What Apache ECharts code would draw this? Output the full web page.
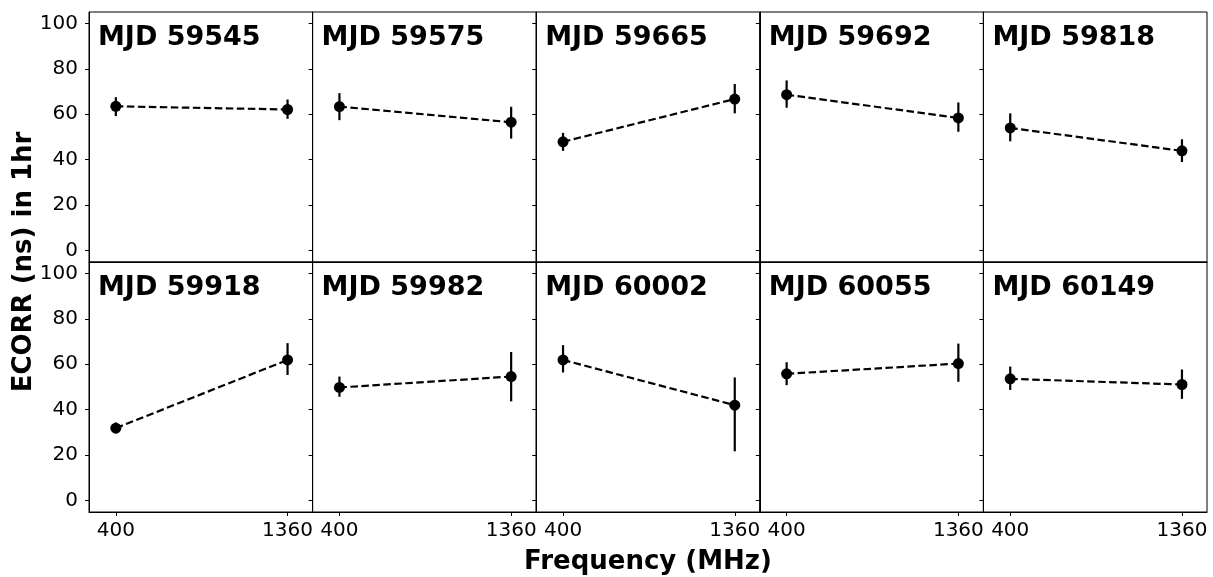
<!DOCTYPE html>
<html>
<head>
<meta charset="utf-8">
<script src="https://cdn.jsdelivr.net/npm/echarts@6/dist/echarts.min.js"></script>
<style>
  html, body { margin: 0; padding: 0; background: #fff; }
  #chart { width: 1213px; height: 577px; }
</style>
</head>
<body>
<div id="chart"></div>
<script>
// epochs, one panel each
var mjdLabels = ['MJD 59545', 'MJD 59575', 'MJD 59665', 'MJD 59692', 'MJD 59818',
                 'MJD 59918', 'MJD 59982', 'MJD 60002', 'MJD 60055', 'MJD 60149'];
var freqs = [400, 1360];
// ECORR (ns) at 400 MHz, with lower / upper ends of the error bar
var ecorr400 = [63.5, 63.4, 47.9, 68.6, 54.0, 31.9, 49.8, 61.9, 55.8, 53.6];
var lo400    = [59.2, 57.4, 43.9, 62.9, 48.1, 29.7, 45.7, 56.4, 50.8, 48.7];
var hi400    = [67.5, 69.3, 51.8, 74.9, 60.4, 34.4, 54.6, 68.4, 60.9, 59.0];
// ECORR (ns) at 1360 MHz
var ecorr1360 = [62.1, 56.5, 66.7, 58.4, 43.9, 61.9, 54.6, 42.0, 60.3, 51.1];
var lo1360    = [58.0, 49.3, 60.4, 52.3, 39.0, 55.3, 43.7, 21.7, 52.3, 44.8];
var hi1360    = [66.5, 63.3, 73.3, 65.2, 49.0, 69.3, 65.4, 54.2, 69.1, 57.7];
var yTicks = [0, 20, 40, 60, 80, 100];

var FONT = 'DejaVu Sans';
var panelLeft = 89, panelTop = 12, panelW = 223.6, panelH = 250;

var chart = echarts.init(document.getElementById('chart'));

function errorBar(params, api) {
	var x = api.value(0);
	var p1 = api.coord([x, api.value(1)]);
	var p2 = api.coord([x, api.value(2)]);
	return {
		type: 'line',
		shape: { x1: p1[0], y1: p1[1], x2: p2[0], y2: p2[1] },
		style: { stroke: '#000', lineWidth: 2.2 }
	};
}

function plainNum(v) {
	return String(v);
}

var grids = [], xAxes = [], yAxes = [], series = [], titles = [];
for (var i = 0; i < mjdLabels.length; i++) {
	var row = Math.floor(i / 5), col = i % 5;
	var gx = panelLeft + col * panelW;   // note: "top" is window.top in the global scope
	var gy = panelTop + row * panelH;
	grids.push({
		left: gx, top: gy, width: panelW, height: panelH,
		show: true, borderColor: '#000', borderWidth: 1
	});
	xAxes.push({
		type: 'value', gridIndex: i, min: 250, max: 1500,
		axisLine: { show: true, onZero: false, lineStyle: { color: '#000', width: 1 } },
		splitLine: { show: false },
		axisTick: { show: row === 1, length: 4, customValues: freqs, lineStyle: { color: '#000' } },
		axisLabel: { show: row === 1, customValues: freqs, formatter: plainNum, margin: 9, color: '#000', fontSize: 20, fontFamily: FONT }
	});
	yAxes.push({
		type: 'value', gridIndex: i, min: -5, max: 105,
		axisLine: { show: true, onZero: false, lineStyle: { color: '#000', width: 1 } },
		splitLine: { show: false },
		axisTick: { show: true, length: 4, customValues: yTicks, lineStyle: { color: '#000' } },
		axisLabel: { show: col === 0, customValues: yTicks, formatter: plainNum, margin: 11, color: '#000', fontSize: 20, fontFamily: FONT }
	});
	titles.push({
		text: mjdLabels[i], left: gx + 9, top: gy + 12,
		textStyle: { fontSize: 27, fontWeight: 'bold', fontFamily: FONT, color: '#000' },
		padding: 0
	});
	// error bars
	series.push({
		type: 'custom', xAxisIndex: i, yAxisIndex: i, z: 2,
		data: [[freqs[0], lo400[i], hi400[i]], [freqs[1], lo1360[i], hi1360[i]]],
		renderItem: errorBar
	});
	// dashed connector with markers
	series.push({
		type: 'line', xAxisIndex: i, yAxisIndex: i, z: 3,
		data: [[freqs[0], ecorr400[i]], [freqs[1], ecorr1360[i]]],
		symbol: 'circle', symbolSize: 11,
		itemStyle: { color: '#000' },
		lineStyle: { color: '#000', width: 2.2, type: [7.5, 3.5] }
	});
}

chart.setOption({
	animation: false,
	backgroundColor: '#fff',
	title: titles,
	grid: grids,
	xAxis: xAxes,
	yAxis: yAxes,
	series: series,
	graphic: [{
		type: 'text', x: 24, y: 262, rotation: Math.PI / 2,
		style: { text: 'ECORR (ns) in 1hr', fontSize: 26, fontWeight: 'bold', fontFamily: FONT, fill: '#000', align: 'center', verticalAlign: 'middle' }
	}, {
		type: 'text', x: 648, y: 562,
		style: { text: 'Frequency (MHz)', fontSize: 26, fontWeight: 'bold', fontFamily: FONT, fill: '#000', align: 'center', verticalAlign: 'middle' }
	}]
});
</script>
</body>
</html>
